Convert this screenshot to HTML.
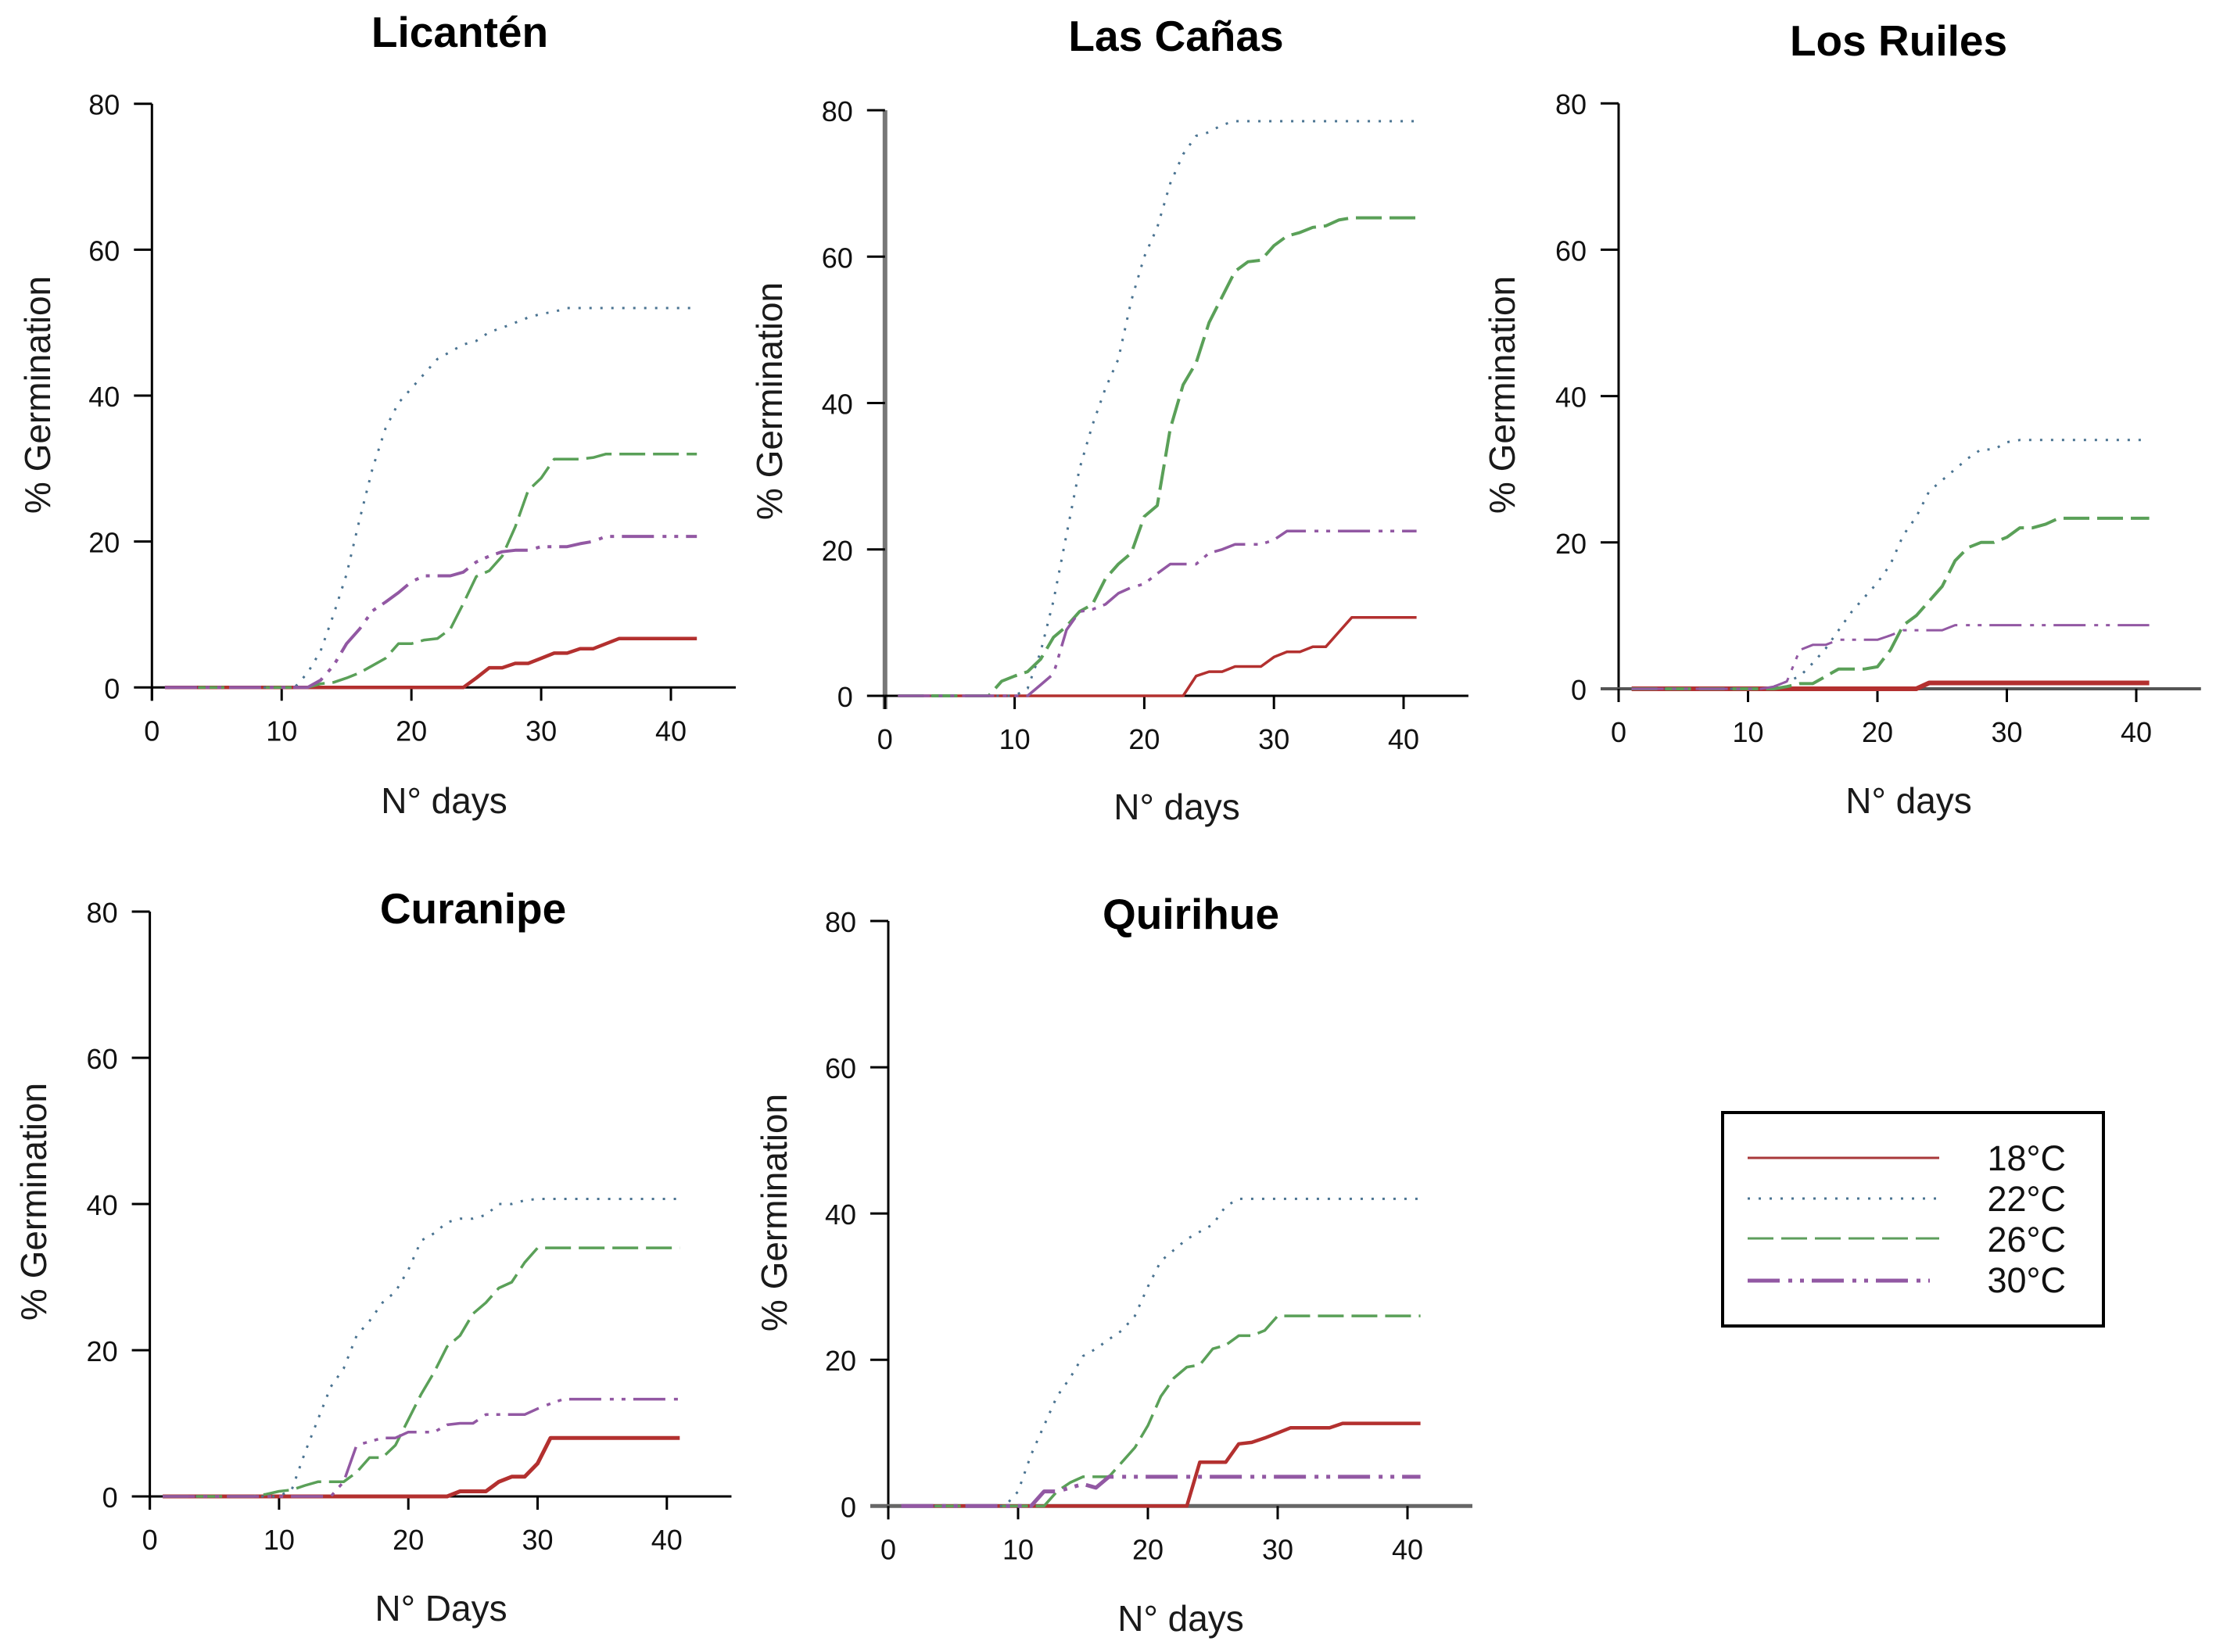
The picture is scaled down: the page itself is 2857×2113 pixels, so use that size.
<!DOCTYPE html>
<html lang="es">
<head>
<meta charset="utf-8">
<title>% Germination by temperature</title>
<style>
  html, body { margin: 0; padding: 0; background: #fff; }
  svg { display: block; }
  text { font-family: "Liberation Sans", Arial, sans-serif; fill: #111; }
  .title { font-size: 55px; font-weight: bold; text-anchor: middle; fill: #000; }
  .axis-label { font-size: 46px; text-anchor: middle; fill: #1a1a1a; }
  .legend-text { font-size: 45px; text-anchor: end; fill: #111; }
</style>
</head>
<body>
<svg id="chart" xmlns="http://www.w3.org/2000/svg" width="2857" height="2113" viewBox="0 0 2857 2113">
  <rect x="0" y="0" width="2857" height="2113" fill="#ffffff"/>

  <g id="licanten">
    <text class="title" x="588" y="60">Licantén</text>
    <text class="axis-label" x="568" y="1040">N° days</text>
    <text class="axis-label" transform="translate(64 505) rotate(-90)">% Germination</text>
  </g>
  <g id="lascanas">
    <text class="title" x="1504" y="65">Las Cañas</text>
    <text class="axis-label" x="1505" y="1048">N° days</text>
    <text class="axis-label" transform="translate(1000 513) rotate(-90)">% Germination</text>
  </g>
  <g id="losruiles">
    <text class="title" x="2428" y="71">Los Ruiles</text>
    <text class="axis-label" x="2441" y="1040">N° days</text>
    <text class="axis-label" transform="translate(1937 505) rotate(-90)">% Germination</text>
  </g>
  <g id="curanipe">
    <text class="title" x="605" y="1181">Curanipe</text>
    <text class="axis-label" x="564" y="2073">N° Days</text>
    <text class="axis-label" transform="translate(59 1537) rotate(-90)">% Germination</text>
  </g>
  <g id="quirihue">
    <text class="title" x="1523" y="1188">Quirihue</text>
    <text class="axis-label" x="1510" y="2086">N° days</text>
    <text class="axis-label" transform="translate(1006 1551) rotate(-90)">% Germination</text>
  </g>

  <g id="legend">
    <rect x="2203" y="1423" width="487" height="273" fill="#ffffff" stroke="#000000" stroke-width="4"/>
    <line x1="2235" y1="1481" x2="2480" y2="1481" stroke="#a8383a" stroke-width="3"/>
    <line x1="2235" y1="1533" x2="2480" y2="1533" stroke="#4a7391" stroke-width="3" stroke-dasharray="3 11"/>
    <line x1="2235" y1="1584" x2="2480" y2="1584" stroke="#5e9e5c" stroke-width="3" stroke-dasharray="33 10"/>
    <line x1="2235" y1="1638" x2="2468" y2="1638" stroke="#9258a3" stroke-width="5" stroke-dasharray="41 11 5 10 5 10"/>
    <text class="legend-text" x="2642" y="1497">18°C</text>
    <text class="legend-text" x="2642" y="1549">22°C</text>
    <text class="legend-text" x="2642" y="1601">26°C</text>
    <text class="legend-text" x="2642" y="1653">30°C</text>
  </g>
</svg>

<script>
// Shared axis ticks
const xTicks = [0, 10, 20, 30, 40];
const yTicks = [0, 20, 40, 60, 80];

// Licantén: % germination for day 1, 2, 3, ...
const licanten18 = [0,0,0,0,0,0,0,0,0,0,0,0,0,0,0,0,0,0,0,0,0,0,0,0,1.3,2.7,2.7,3.3,3.3,4,4.7,4.7,5.3,5.3,6,6.7,6.7,6.7,6.7,6.7,6.7,6.7];
const licanten22 = [0,0,0,0,0,0,0,0,0,0,0,2,5,10,15.5,23,30,35.5,39,41,43,45,46,47,47.5,48.7,49.3,50,50.7,51.2,51.5,52,52,52,52,52,52,52,52,52,52,52];
const licanten26 = [0,0,0,0,0,0,0,0,0,0,0,0,0.5,0.7,1.3,2,3,4,6,6,6.5,6.7,8,11.5,15.2,16,18,22,27,28.7,31.3,31.3,31.3,31.5,32,32,32,32,32,32,32,32];
const licanten30 = [0,0,0,0,0,0,0,0,0,0,0,0,1,3,6,8,10.5,11.7,13,14.5,15.3,15.3,15.3,15.8,17.2,18,18.6,18.8,18.8,19.3,19.3,19.3,19.7,20,20.7,20.7,20.7,20.7,20.7,20.7,20.7,20.7];

// Las Cañas
const lascanas18 = [0,0,0,0,0,0,0,0,0,0,0,0,0,0,0,0,0,0,0,0,0,0,0,2.7,3.3,3.3,4,4,4,5.3,6,6,6.7,6.7,8.7,10.7,10.7,10.7,10.7,10.7,10.7];
const lascanas22 = [0,0,0,0,0,0,0,0,0,0,1,6,13,22,31,37,42,46,54,60,64,70,74,76.5,77,78,78.5,78.5,78.5,78.5,78.5,78.5,78.5,78.5,78.5,78.5,78.5,78.5,78.5,78.5,78.5];
const lascanas26 = [0,0,0,0,0,0,0,0,2,2.7,3.3,5,8,9.5,11.5,12.5,16,18,19.5,24.5,26,36.5,42.5,45.5,51,54.5,58,59.3,59.5,61.5,62.8,63.3,64,64.2,65,65.3,65.3,65.3,65.3,65.3,65.3];
const lascanas30 = [0,0,0,0,0,0,0,0,0,0,0,1.5,3,9,11.5,11.8,12.5,14,14.8,15.3,16.7,18,18,18,19.5,20,20.7,20.7,20.7,21.3,22.5,22.5,22.5,22.5,22.5,22.5,22.5,22.5,22.5,22.5,22.5];

// Los Ruiles
const losruiles18 = [0,0,0,0,0,0,0,0,0,0,0,0,0,0,0,0,0,0,0,0,0,0,0,0.8,0.8,0.8,0.8,0.8,0.8,0.8,0.8,0.8,0.8,0.8,0.8,0.8,0.8,0.8,0.8,0.8,0.8];
const losruiles22 = [0,0,0,0,0,0,0,0,0,0,0,0.3,1,1.7,3.5,5.5,8,10.5,12.5,14.5,17,21,23.5,27,28.5,30,31.5,32.7,32.7,33.7,34,34,34,34,34,34,34,34,34,34,34];
const losruiles26 = [0,0,0,0,0,0,0,0,0,0,0,0,0.3,0.7,0.7,1.7,2.7,2.7,2.7,3,5.3,8.7,10,12,14,17.5,19.3,20,20,20.7,22,22,22.5,23.3,23.3,23.3,23.3,23.3,23.3,23.3,23.3];
const losruiles30 = [0,0,0,0,0,0,0,0,0,0,0,0.3,1,5.3,6,6,6.7,6.7,6.7,6.7,7.3,8,8,8,8,8.7,8.7,8.7,8.7,8.7,8.7,8.7,8.7,8.7,8.7,8.7,8.7,8.7,8.7,8.7,8.7];

// Curanipe
const curanipe18 = [0,0,0,0,0,0,0,0,0,0,0,0,0,0,0,0,0,0,0,0,0,0,0,0.7,0.7,0.7,2,2.7,2.7,4.5,8,8,8,8,8,8,8,8,8,8,8];
const curanipe22 = [0,0,0,0,0,0,0,0,0,0,1,6,10.5,15,17.5,22,24,26.5,28,31,35,36,37.5,38,38,38.5,40,40,40.5,40.7,40.7,40.7,40.7,40.7,40.7,40.7,40.7,40.7,40.7,40.7,40.7];
const curanipe26 = [0,0,0,0,0,0,0,0,0.3,0.7,0.9,1.5,2,2,2,3.3,5.3,5.3,7,10.5,14,17,20.5,22,25,26.5,28.5,29.3,32,34,34,34,34,34,34,34,34,34,34,34,34];
const curanipe30 = [0,0,0,0,0,0,0,0,0,0,0,0,0,0,2,7,7.5,8,8,8.8,8.8,8.8,9.8,10,10,11.2,11.2,11.2,11.2,12,12.7,13.3,13.3,13.3,13.3,13.3,13.3,13.3,13.3,13.3,13.3];

// Quirihue
const quirihue18 = [0,0,0,0,0,0,0,0,0,0,0,0,0,0,0,0,0,0,0,0,0,0,0,6,6,6,8.5,8.7,9.3,10,10.7,10.7,10.7,10.7,11.3,11.3,11.3,11.3,11.3,11.3,11.3];
const quirihue22 = [0,0,0,0,0,0,0,0,0,2,7,11,15,17.5,20.5,21.5,22.8,24,26,30,33.5,35,36.5,37.5,38.5,41,42,42,42,42,42,42,42,42,42,42,42,42,42,42,42];
const quirihue26 = [0,0,0,0,0,0,0,0,0,0,0,0,2,3.2,4,4,4,6,8,11,15,17.5,19,19.3,21.5,22,23.3,23.3,24,26,26,26,26,26,26,26,26,26,26,26,26];
const quirihue30 = [0,0,0,0,0,0,0,0,0,0,0,2,2,2.5,3,2.5,4,4,4,4,4,4,4,4,4,4,4,4,4,4,4,4,4,4,4,4,4,4,4,4,4];

const SVG_NS = 'http://www.w3.org/2000/svg';

// Series drawing styles, drawn in this order
const styles = {
  s18: { color: '#b3302f', width: 3.5, dash: null },
  s22: { color: '#4a7391', width: 3, dash: '3 11' },
  s26: { color: '#5aa058', width: 3.5, dash: '33 10' },
  s30: { color: '#9258a3', width: 3.5, dash: '41 11 5 10 5 10' }
};

function drawPanel(p) {
  const g = document.getElementById(p.id);
  const xPos = function (d) { return p.x0 + (p.x40 - p.x0) * d / 40; };
  const yPos = function (v) { return p.y0 + (p.y80 - p.y0) * v / 80; };

  const addLine = function (x1, y1, x2, y2, color, width, name) {
    const l = document.createElementNS(SVG_NS, 'line');
    l.setAttribute('x1', x1);
    l.setAttribute('y1', y1);
    l.setAttribute('x2', x2);
    l.setAttribute('y2', y2);
    l.setAttribute('stroke', color);
    l.setAttribute('stroke-width', width);
    
    
    g.appendChild(l);
  };
  const addLabel = function (x, y, anchor, str, name) {
    const t = document.createElementNS(SVG_NS, 'text');
    t.setAttribute('x', x);
    t.setAttribute('y', y);
    t.setAttribute('text-anchor', anchor);
    t.setAttribute('font-size', '36');
    t.textContent = str;
    
    
    g.appendChild(t);
  };

  // axes
  addLine(p.x0, p.y80, p.x0, p.y0 + 17, p.yAxisColor, p.yAxisWidth, 'y-axis-line');
  addLine(p.x0, p.y0, xPos(45), p.y0, p.xAxisColor, p.xAxisWidth, 'x-axis-line');
  yTicks.forEach(function (v) {
    addLine(p.x0 - 23, yPos(v), p.x0, yPos(v), v === 0 ? p.xAxisColor : '#000', v === 0 ? p.xAxisWidth : 3, 'y-tick');
    addLabel(p.x0 - 41, yPos(v) + 14, 'end', String(v), 'y-tick-label');
  });
  xTicks.forEach(function (d) {
    addLine(xPos(d), p.y0, xPos(d), p.y0 + 17, '#000', 3, 'x-tick');
    addLabel(xPos(d), p.y0 + 68, 'middle', String(d), 'x-tick-label');
  });

  // series
  p.series.forEach(function (s) {
    const st = styles[s.style];
    const pts = s.values.map(function (v, i) {
      return xPos(i + 1).toFixed(1) + ',' + yPos(v).toFixed(1);
    }).join(' ');
    const line = document.createElementNS(SVG_NS, 'polyline');
    line.setAttribute('points', pts);
    line.setAttribute('fill', 'none');
    line.setAttribute('stroke', st.color);
    line.setAttribute('stroke-width', s.width || st.width);
    line.setAttribute('stroke-linejoin', 'round');
    if (st.dash) line.setAttribute('stroke-dasharray', st.dash);
    
    
    g.appendChild(line);
  });
}

drawPanel({ id: 'licanten', x0: 194.3, x40: 858, y0: 879.3, y80: 132.7, xAxisColor: '#000', xAxisWidth: 3, yAxisColor: '#000', yAxisWidth: 3,
  series: [
    { style: 's18', values: licanten18, name: 'licanten-18c-line', width: 4.5 },
    { style: 's22', values: licanten22, name: 'licanten-22c-line' },
    { style: 's26', values: licanten26, name: 'licanten-26c-line' },
    { style: 's30', values: licanten30, name: 'licanten-30c-line', width: 4 }
  ] });
drawPanel({ id: 'lascanas', x0: 1131.8, x40: 1795, y0: 890, y80: 141, xAxisColor: '#000', xAxisWidth: 3, yAxisColor: '#777', yAxisWidth: 6,
  series: [
    { style: 's18', values: lascanas18, name: 'las-canas-18c-line' },
    { style: 's22', values: lascanas22, name: 'las-canas-22c-line' },
    { style: 's26', values: lascanas26, name: 'las-canas-26c-line', width: 4 },
    { style: 's30', values: lascanas30, name: 'las-canas-30c-line' }
  ] });
drawPanel({ id: 'losruiles', x0: 2070, x40: 2732, y0: 881, y80: 132.2, xAxisColor: '#555', xAxisWidth: 4, yAxisColor: '#000', yAxisWidth: 3,
  series: [
    { style: 's18', values: losruiles18, name: 'los-ruiles-18c-line', width: 6 },
    { style: 's22', values: losruiles22, name: 'los-ruiles-22c-line' },
    { style: 's26', values: losruiles26, name: 'los-ruiles-26c-line', width: 4 },
    { style: 's30', values: losruiles30, name: 'los-ruiles-30c-line', width: 3 }
  ] });
drawPanel({ id: 'curanipe', x0: 191.6, x40: 852.8, y0: 1914, y80: 1166, xAxisColor: '#000', xAxisWidth: 3, yAxisColor: '#000', yAxisWidth: 3,
  series: [
    { style: 's18', values: curanipe18, name: 'curanipe-18c-line', width: 5 },
    { style: 's22', values: curanipe22, name: 'curanipe-22c-line' },
    { style: 's26', values: curanipe26, name: 'curanipe-26c-line' },
    { style: 's30', values: curanipe30, name: 'curanipe-30c-line' }
  ] });
drawPanel({ id: 'quirihue', x0: 1136, x40: 1800, y0: 1926.3, y80: 1178, xAxisColor: '#666', xAxisWidth: 5, yAxisColor: '#000', yAxisWidth: 3,
  series: [
    { style: 's18', values: quirihue18, name: 'quirihue-18c-line', width: 4.5 },
    { style: 's22', values: quirihue22, name: 'quirihue-22c-line' },
    { style: 's26', values: quirihue26, name: 'quirihue-26c-line' },
    { style: 's30', values: quirihue30, name: 'quirihue-30c-line', width: 5 }
  ] });
</script>
</body>
</html>
